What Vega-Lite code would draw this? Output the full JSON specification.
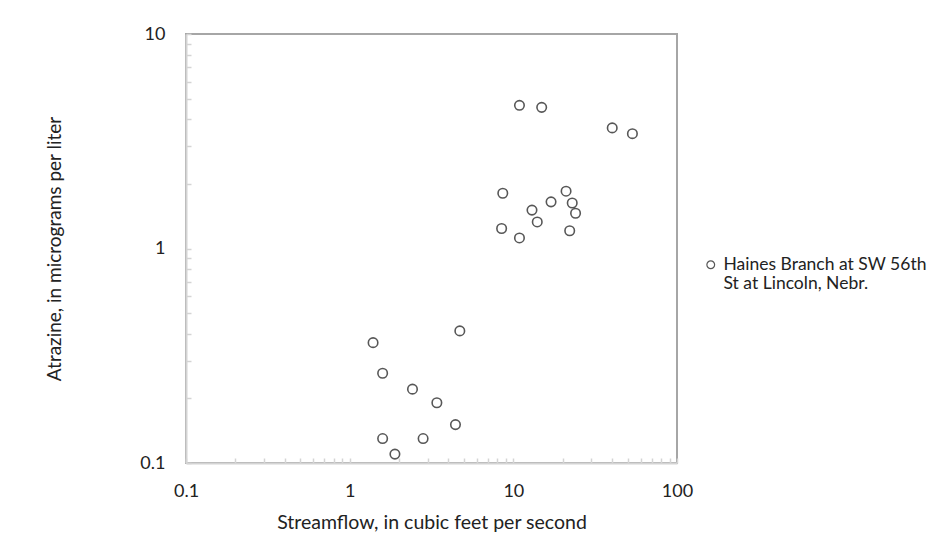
{
  "$schema": "https://vega.github.io/schema/vega-lite/v6.json",
  "width": 491,
  "height": 429,
  "autosize": {"type": "none"},
  "padding": {"left": 186, "top": 34, "right": 266, "bottom": 97},
  "background": "white",
  "config": {
    "font": "Lato",
    "view": {"stroke": "#a6a6a6", "strokeWidth": 2},
    "axis": {
      "grid": false,
      "domainColor": "#d4d4d4",
      "domainWidth": 2,
      "tickColor": "#d4d4d4",
      "tickWidth": 1.5,
      "tickSize": -5,
      "labelColor": "#222222",
      "titleColor": "#222222",
      "labelFont": "Lato",
      "titleFont": "Lato",
      "titleFontWeight": "normal",
      "labelOverlap": false,
      "labelFlush": false,
      "zindex": 1
    }
  },
  "data": {
    "values": [
      {"flow": 10.9, "atrazine": 4.65, "site": "Haines Branch at SW 56th St at Lincoln, Nebr."},
      {"flow": 14.9, "atrazine": 4.55, "site": "Haines Branch at SW 56th St at Lincoln, Nebr."},
      {"flow": 40.2, "atrazine": 3.65, "site": "Haines Branch at SW 56th St at Lincoln, Nebr."},
      {"flow": 53.4, "atrazine": 3.43, "site": "Haines Branch at SW 56th St at Lincoln, Nebr."},
      {"flow": 8.62, "atrazine": 1.81, "site": "Haines Branch at SW 56th St at Lincoln, Nebr."},
      {"flow": 21.0, "atrazine": 1.85, "site": "Haines Branch at SW 56th St at Lincoln, Nebr."},
      {"flow": 17.0, "atrazine": 1.65, "site": "Haines Branch at SW 56th St at Lincoln, Nebr."},
      {"flow": 22.9, "atrazine": 1.63, "site": "Haines Branch at SW 56th St at Lincoln, Nebr."},
      {"flow": 13.0, "atrazine": 1.51, "site": "Haines Branch at SW 56th St at Lincoln, Nebr."},
      {"flow": 24.0, "atrazine": 1.46, "site": "Haines Branch at SW 56th St at Lincoln, Nebr."},
      {"flow": 14.0, "atrazine": 1.33, "site": "Haines Branch at SW 56th St at Lincoln, Nebr."},
      {"flow": 8.48, "atrazine": 1.24, "site": "Haines Branch at SW 56th St at Lincoln, Nebr."},
      {"flow": 22.1, "atrazine": 1.21, "site": "Haines Branch at SW 56th St at Lincoln, Nebr."},
      {"flow": 10.9, "atrazine": 1.12, "site": "Haines Branch at SW 56th St at Lincoln, Nebr."},
      {"flow": 4.71, "atrazine": 0.413, "site": "Haines Branch at SW 56th St at Lincoln, Nebr."},
      {"flow": 1.39, "atrazine": 0.364, "site": "Haines Branch at SW 56th St at Lincoln, Nebr."},
      {"flow": 1.59, "atrazine": 0.262, "site": "Haines Branch at SW 56th St at Lincoln, Nebr."},
      {"flow": 2.42, "atrazine": 0.221, "site": "Haines Branch at SW 56th St at Lincoln, Nebr."},
      {"flow": 3.41, "atrazine": 0.191, "site": "Haines Branch at SW 56th St at Lincoln, Nebr."},
      {"flow": 4.43, "atrazine": 0.151, "site": "Haines Branch at SW 56th St at Lincoln, Nebr."},
      {"flow": 1.59, "atrazine": 0.130, "site": "Haines Branch at SW 56th St at Lincoln, Nebr."},
      {"flow": 2.81, "atrazine": 0.130, "site": "Haines Branch at SW 56th St at Lincoln, Nebr."},
      {"flow": 1.89, "atrazine": 0.110, "site": "Haines Branch at SW 56th St at Lincoln, Nebr."}
    ]
  },
  "mark": {"type": "point", "shape": "circle", "filled": false, "size": 90, "strokeWidth": 1.6},
  "encoding": {
    "x": {
      "field": "flow",
      "type": "quantitative",
      "scale": {"type": "log", "domain": [0.1, 100], "nice": false},
      "axis": {
        "title": "Streamflow, in cubic feet per second",
        "titleFontSize": 19.5,
        "titlePadding": 13,
        "labelFontSize": 18,
        "labelPadding": 24,
        "format": "~g",
        "values": [0.1, 0.2, 0.3, 0.4, 0.5, 0.6, 0.7, 0.8, 0.9, 1, 2, 3, 4, 5, 6, 7, 8, 9, 10, 20, 30, 40, 50, 60, 70, 80, 90, 100],
        "labelExpr": "(datum.value == 0.1 || datum.value == 1 || datum.value == 10 || datum.value == 100) ? datum.label : ''"
      }
    },
    "y": {
      "field": "atrazine",
      "type": "quantitative",
      "scale": {"type": "log", "domain": [0.1, 10], "nice": false},
      "axis": {
        "title": "Atrazine, in micrograms per liter",
        "titleFontSize": 19,
        "titlePadding": 75,
        "labelFontSize": 18,
        "labelPadding": 26,
        "format": "~g",
        "values": [0.1, 0.2, 0.3, 0.4, 0.5, 0.6, 0.7, 0.8, 0.9, 1, 2, 3, 4, 5, 6, 7, 8, 9, 10],
        "labelExpr": "(datum.value == 0.1 || datum.value == 1 || datum.value == 10) ? datum.label : ''"
      }
    },
    "color": {
      "field": "site",
      "type": "nominal",
      "scale": {"range": ["#111111"]},
      "legend": {
        "title": null,
        "orient": "none",
        "legendX": 516,
        "legendY": 222,
        "labelFontSize": 17.5,
        "labelFont": "Lato",
        "labelColor": "#222222",
        "symbolStrokeColor": "#888888",
        "symbolSize": 60,
        "symbolStrokeWidth": 1.2,
        "labelExpr": "['Haines Branch at SW 56th', 'St at Lincoln, Nebr.']",
        "labelLimit": 300
      }
    }
  }
}
